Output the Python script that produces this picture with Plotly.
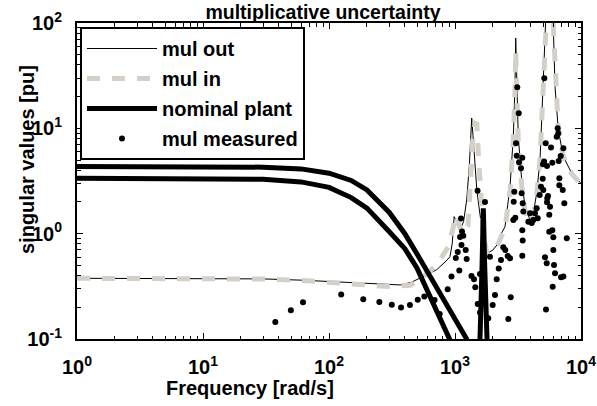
import plotly.graph_objects as go

# ---- data ----
freq_out = [1, 10, 30, 60, 100, 200, 300, 370, 450, 560, 716, 850, 912, 950, 985, 1030,
            1100, 1170, 1238, 1298, 1340, 1357, 1390, 1442, 1490, 1579, 1699, 1805, 2000,
            2206, 2349, 2494, 2733, 2903, 2993, 3033, 3088, 3178, 3382, 3594, 3937, 4182,
            4450, 4730, 4875, 5020, 5178, 5400, 5590, 5800, 6030, 6220, 6604, 7244, 8437, 10000]
mul_out = [0.377, 0.376, 0.372, 0.362, 0.35, 0.336, 0.328, 0.326, 0.345, 0.39, 0.455, 0.55,
           0.605, 0.8, 1.45, 1.3, 1.1, 1.3, 2.09, 4.33, 9.0, 12.5, 8.5, 5.0, 2.59, 1.51, 0.87,
           0.652, 0.7, 0.81, 1.02, 1.165, 2.8, 8.34, 24.9, 72, 24.9, 8.34, 3.24, 1.80, 1.35,
           1.56, 2.42, 5.01, 12.0, 35.9, 92.4, 250, 400, 250, 92.4, 24.9, 9.66, 5.38, 3.75, 3.0]

freq_in = [1, 10, 30, 60, 100, 200, 300, 440, 560, 716, 885, 960, 1018, 1080, 1150, 1270,
           1320, 1380, 1440, 1490, 1540, 1600, 1680, 1800, 2000, 2200, 2350, 2500, 2740,
           2900, 2990, 3040, 3090, 3180, 3380, 3600, 3940, 4180, 4450, 4730, 4880, 5020,
           5180, 5400, 5590, 5800, 6030, 6220, 6600, 7240, 8440, 10000]
mul_in = [0.377, 0.376, 0.371, 0.36, 0.345, 0.322, 0.315, 0.323, 0.39, 0.505, 0.75, 1.1,
          1.51, 1.2, 1.0, 1.2, 3.0, 7.5, 11.2, 11.0, 5.0, 2.0, 1.0, 0.64, 0.7, 0.8, 1.0,
          1.15, 2.6, 7.5, 22, 55, 22, 7.5, 2.9, 1.65, 1.26, 1.45, 2.3, 5.0, 12, 35, 92, 250,
          400, 250, 92, 25, 9.7, 5.4, 3.7, 2.95]

freq_nom_hi = [1, 10, 30, 60, 100, 150, 200, 300, 400, 500, 700, 900, 1238, 1450,
               1579, 1640, 1678, 1720, 1795, 2000]
nom_hi = [4.33, 4.33, 4.28, 4.12, 3.75, 3.2, 2.6, 1.6, 1.0, 0.64, 0.32, 0.195, 0.1, 0.06,
          0.1, 0.5, 1.74, 0.5, 0.1, 0.04]
freq_nom_lo = [1, 10, 30, 60, 100, 150, 200, 300, 400, 500, 700, 912, 1100]
nom_lo = [3.36, 3.35, 3.28, 3.1, 2.75, 2.2, 1.75, 1.05, 0.72, 0.47, 0.2, 0.1, 0.06]

freq_meas = [37.5, 49.8, 62.2, 125, 187, 251, 315, 373, 439, 506, 571, 688, 756, 875, 938,
             1015, 1051, 1082, 1126, 1096, 1137, 1116, 1238, 1216, 1164, 1352, 1415, 1449,
             1514, 1579, 1579, 1510, 1730, 1837, 1895, 1991, 2077, 2143, 2223, 2317, 2417,
             2507, 2620, 2734, 2650, 2768, 2903, 2956, 2924, 3010, 3121, 3205, 3050, 3090,
             3221, 3340, 3420, 3381, 3445, 3484, 3420, 3445, 3420, 3818, 3937, 4061, 4182,
             4314, 4450, 4533, 4700, 4816, 4969, 4993, 5115, 5248, 5373, 5470, 5373, 5600,
             5178, 5346, 5275, 5920, 6031, 6031, 6105, 6220, 5960, 5600, 6412, 6531, 6653,
             6730, 7244, 7163, 7370, 7244, 7709, 6940, 5675, 5400, 5781, 6900, 5920, 5100,
             6730, 5020, 6604]
mul_meas = [0.145, 0.187, 0.223, 0.264, 0.239, 0.224, 0.211, 0.199, 0.21, 0.236, 0.253,
            0.235, 0.173, 0.297, 0.393, 0.588, 0.67, 0.446, 0.782, 0.93, 1.05, 1.39, 0.575,
            0.70, 0.957, 0.396, 0.369, 0.31, 0.215, 0.178, 0.414, 2.55, 2.0, 0.157, 0.605,
            0.21, 0.262, 0.369, 0.466, 0.562, 0.743, 0.70, 0.614, 0.583, 0.155, 0.249, 1.35,
            2.5, 2.01, 1.42, 24.6, 13.9, 7.22, 5.5, 4.76, 4.18, 5.27, 2.42, 1.94, 1.62, 1.08,
            0.86, 0.618, 1.30, 1.56, 1.26, 1.35, 1.56, 1.74, 1.40, 2.33, 2.79, 3.33, 4.56,
            29.9, 7.22, 4.40, 2.28, 1.99, 1.51, 0.597, 0.524, 0.191, 1.08, 0.925, 0.70, 0.505,
            0.421, 0.314, 1.04, 8.34, 10.0, 4.90, 2.88, 6.47, 2.60, 1.94, 0.391, 0.904, 0.386,
            1.80, 2.17, 6.56, 5.47, 4.72, 4.83, 3.36, 2.6, 8.98]

x_tickvals = [1, 10, 100, 1000, 10000]
x_ticktext = ["10<sup>0</sup>", "10<sup>1</sup>", "10<sup>2</sup>", "10<sup>3</sup>", "10<sup>4</sup>"]
y_tickvals = [0.1, 1, 10, 100]
y_ticktext = ["10<sup>-1</sup>", "10<sup>0</sup>", "10<sup>1</sup>", "10<sup>2</sup>"]
x_minor = [m * d for d in [1, 10, 100, 1000] for m in range(2, 10)]
y_minor = [m * d for d in [0.1, 1, 10] for m in range(2, 10)]

GREY = "#d4d0c8"
FONT = "Liberation Sans, Arial, sans-serif"

fig = go.Figure()
fig.add_trace(go.Scatter(x=freq_out, y=mul_out, mode="lines", name="mul out",
                         line=dict(color="black", width=1)))
fig.add_trace(go.Scatter(x=freq_in, y=mul_in, mode="lines", name="mul in",
                         line=dict(color=GREY, width=5, dash="13px,12px")))
fig.add_trace(go.Scatter(x=freq_nom_hi, y=nom_hi, mode="lines", name="nominal plant",
                         legendgroup="nom", line=dict(color="black", width=5)))
fig.add_trace(go.Scatter(x=freq_nom_lo, y=nom_lo, mode="lines", name="nominal plant",
                         legendgroup="nom", showlegend=False,
                         line=dict(color="black", width=5)))
fig.add_trace(go.Scatter(x=freq_meas, y=mul_meas, mode="markers", name="mul measured",
                         marker=dict(color="black", size=6)))
# invisible carrier trace so that the minor-tick overlay axes are drawn
fig.add_trace(go.Scatter(x=[1], y=[1], xaxis="x2", yaxis="y2", mode="markers",
                         marker=dict(opacity=0), showlegend=False, hoverinfo="skip"))

axis_common = dict(
    type="log", showgrid=False, zeroline=False, automargin=False,
    ticks="inside", ticklen=6, tickwidth=1, tickcolor="black",
    showline=True, linecolor="black", linewidth=2, mirror="allticks",
    tickfont=dict(family=FONT, size=20, color="black", weight="bold"),
)
minor_common = dict(
    type="log", showgrid=False, zeroline=False, automargin=False,
    ticks="inside", ticklen=3.5, tickwidth=1, tickcolor="black",
    showline=True, linecolor="black", linewidth=2, mirror="allticks",
    showticklabels=False, tickmode="array",
)
fig.update_layout(
    xaxis=dict(**axis_common, range=[0, 4], tickmode="array",
               tickvals=x_tickvals, ticktext=x_ticktext, ticklabelstandoff=9),
    yaxis=dict(**axis_common, range=[-1, 2], tickmode="array",
               tickvals=y_tickvals, ticktext=y_ticktext, ticklabelstandoff=9),
    xaxis2=dict(**minor_common, range=[0, 4], tickvals=x_minor, overlaying="x", anchor="y2"),
    yaxis2=dict(**minor_common, range=[-1, 2], tickvals=y_minor, overlaying="y", anchor="x2"),
)

label_font = dict(family=FONT, size=20, color="black", weight="bold")
fig.add_annotation(text="singular values [pu]", textangle=-90, xref="paper", yref="paper",
                   x=-50 / 504, y=1 - (160 - 23) / 316, xanchor="center", yanchor="middle",
                   showarrow=False, font=label_font)
fig.add_annotation(text="Frequency [rad/s]", xref="paper", yref="paper",
                   x=(250 - 77) / 504, y=(339 - 388) / 316, xanchor="center",
                   yanchor="middle", showarrow=False, font=label_font)

fig.update_layout(
    width=597, height=406,
    margin=dict(l=77, r=16, t=23, b=67),
    paper_bgcolor="white", plot_bgcolor="white",
    title=dict(text="multiplicative uncertainty", x=323 / 597, xanchor="center",
               y=1 - 12 / 406, yanchor="middle",
               font=dict(family=FONT, size=19.5, color="black", weight="bold")),
    legend=dict(x=3 / 504, y=1 - 4 / 316, xanchor="left", yanchor="top",
                bgcolor="white", bordercolor="black", borderwidth=2,
                font=dict(family=FONT, size=20, color="black", weight="bold"),
                itemwidth=70, tracegroupgap=1),
    showlegend=True,
)

fig.write_html("out.html")
